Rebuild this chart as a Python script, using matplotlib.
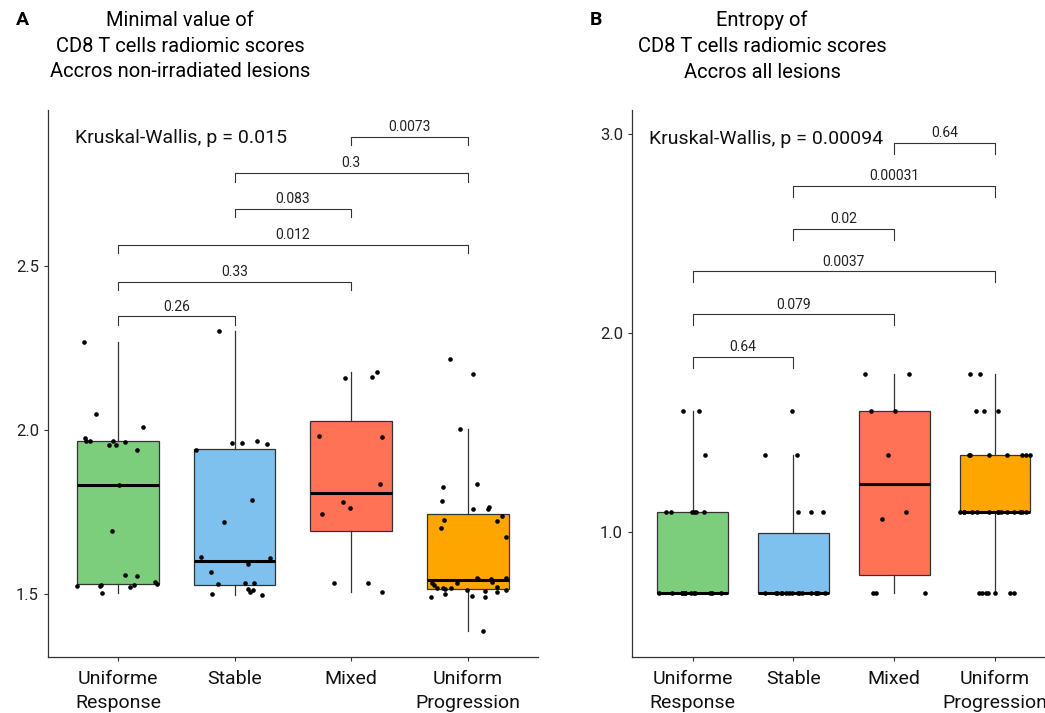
import numpy as np
import matplotlib.pyplot as plt

plt.rcParams['font.family'] = ['Roboto', 'DejaVu Sans']

###########################################################
# Data
###########################################################

groups = ['Uniforme\nResponse', 'Stable', 'Mixed', 'Uniform\nProgression']
colors = ['#7CCD7C', '#7EC0EE', '#FF7256', '#FFA500']

# panel A: minimal value of CD8 radiomic score, non-irradiated lesions
min_ur = [2.269, 2.050, 2.008, 1.963, 1.975, 1.966, 1.954, 1.966, 1.940, 1.968,
          1.954, 1.833, 1.693, 1.557, 1.555, 1.536, 1.526, 1.523, 1.529, 1.529,
          1.524, 1.532, 1.502]
min_stable = [2.301, 1.957, 1.961, 1.960, 1.966, 1.939, 1.786, 1.719, 1.614, 1.592,
              1.609, 1.566, 1.535, 1.531, 1.534, 1.511, 1.500, 1.496, 1.516, 1.506]
min_mixed = [2.176, 2.158, 2.162, 1.980, 1.983, 1.837, 1.780, 1.762, 1.744, 1.535,
             1.535, 1.505]
min_up = [2.218, 2.170, 2.003, 1.835, 1.827, 1.785, 1.759, 1.764, 1.759, 1.739,
          1.726, 1.723, 1.700, 1.674, 1.547, 1.549, 1.549, 1.546, 1.538, 1.535,
          1.534, 1.529, 1.517, 1.516, 1.521, 1.518, 1.518, 1.511, 1.507, 1.511,
          1.510, 1.501, 1.494, 1.490, 1.490, 1.386]

# panel B: entropy of CD8 radiomic score, all lesions
ent_ur = [1.609] * 2 + [1.386] + [1.099] * 6 + [0.693] * 14
ent_stable = [1.609] + [1.386] * 2 + [1.099] * 3 + [0.693] * 16
ent_mixed = [1.792, 1.792, 1.609, 1.609, 1.386, 1.099, 1.064, 0.693, 0.693, 0.693]
ent_up = [1.792] * 2 + [1.609] * 3 + [1.386] * 7 + [1.099] * 14 + [0.693] * 7

# pairwise comparisons (group index pairs), p-values and bracket heights
pairs = [(3, 4), (2, 4), (2, 3), (1, 4), (1, 3), (1, 2)]
p_a = ['0.0073', '0.3', '0.083', '0.012', '0.33', '0.26']
h_a = [2.895, 2.784, 2.675, 2.565, 2.453, 2.347]
p_b = ['0.64', '0.00031', '0.02', '0.0037', '0.079', '0.64']
h_b = [2.956, 2.740, 2.524, 2.310, 2.095, 1.881]

kw_a = 'Kruskal-Wallis, p = 0.015'
kw_b = 'Kruskal-Wallis, p = 0.00094'

###########################################################
# Plot
###########################################################

fig = plt.figure(figsize=(10.45, 7.13), dpi=100)
ax1 = fig.add_axes([0.0459, 0.0785, 0.4689, 0.7672])
ax2 = fig.add_axes([0.6048, 0.0785, 0.4054, 0.7672])

rng = np.random.default_rng(3)


def draw_panel(ax, data, pvals, heights, tick, kw_text, kw_x, kw_y, ylim, yticks):
    pos = np.arange(1, len(data) + 1)
    bp = ax.boxplot(data, positions=pos, widths=0.7, patch_artist=True,
                    showfliers=False, showcaps=False, whis=1.5,
                    medianprops=dict(color='black', lw=2.2),
                    boxprops=dict(edgecolor='#333333', lw=0.9),
                    whiskerprops=dict(color='#333333', lw=0.9))
    for patch, c in zip(bp['boxes'], colors):
        patch.set_facecolor(c)
    for p, vals in zip(pos, data):
        xs = p + rng.uniform(-0.35, 0.35, len(vals))
        ax.scatter(xs, vals, s=11, color='black', zorder=3, linewidths=0)

    for (g1, g2), lab, h in zip(pairs, pvals, heights):
        ax.plot([g1, g1, g2, g2], [h - tick, h, h, h - tick], color='#333333', lw=0.8)
        ax.annotate(lab, xy=((g1 + g2) / 2, h), xytext=(0, 4), textcoords='offset points',
                    ha='center', va='baseline', fontsize=10, color='#222222')

    ax.text(kw_x, kw_y, kw_text, ha='left', va='center', fontsize=14, color='#111111')

    ax.set_xlim(0.4, 4.6)
    ax.set_ylim(*ylim)
    ax.set_yticks(yticks)
    ax.set_yticklabels([f'{t:.1f}' for t in yticks])
    ax.set_xticks(pos)
    ax.set_xticklabels(groups, linespacing=1.45)
    ax.tick_params(axis='y', labelsize=12, color='#333333', length=3, labelcolor='#222222')
    ax.tick_params(axis='x', labelsize=14, color='#333333', length=3, labelcolor='#111111', pad=6)
    for s in ['top', 'right']:
        ax.spines[s].set_visible(False)
    for s in ['left', 'bottom']:
        ax.spines[s].set_color('#333333')
        ax.spines[s].set_linewidth(0.9)


draw_panel(ax1, [min_ur, min_stable, min_mixed, min_up], p_a, h_a, 0.026,
           kw_a, 0.63, 2.891, (1.308, 2.976), [1.5, 2.0, 2.5])
draw_panel(ax2, [ent_ur, ent_stable, ent_mixed, ent_up], p_b, h_b, 0.054,
           kw_b, 0.57, 2.973, (0.372, 3.121), [1.0, 2.0, 3.0])

fig.text(180 / 1045, 1 - 46 / 713,
         'Minimal value of\nCD8 T cells radiomic scores\nAccros non-irradiated lesions',
         ha='center', va='center', fontsize=14.5, linespacing=1.45)
fig.text(762 / 1045, 1 - 46 / 713,
         'Entropy of\nCD8 T cells radiomic scores\nAccros all lesions',
         ha='center', va='center', fontsize=14.5, linespacing=1.45)
fig.text(22 / 1045, 1 - 20 / 713, 'A', ha='center', va='center', fontsize=14, fontweight='bold')
fig.text(596 / 1045, 1 - 20 / 713, 'B', ha='center', va='center', fontsize=14, fontweight='bold')

plt.savefig('out.png', dpi=100, facecolor='white')
